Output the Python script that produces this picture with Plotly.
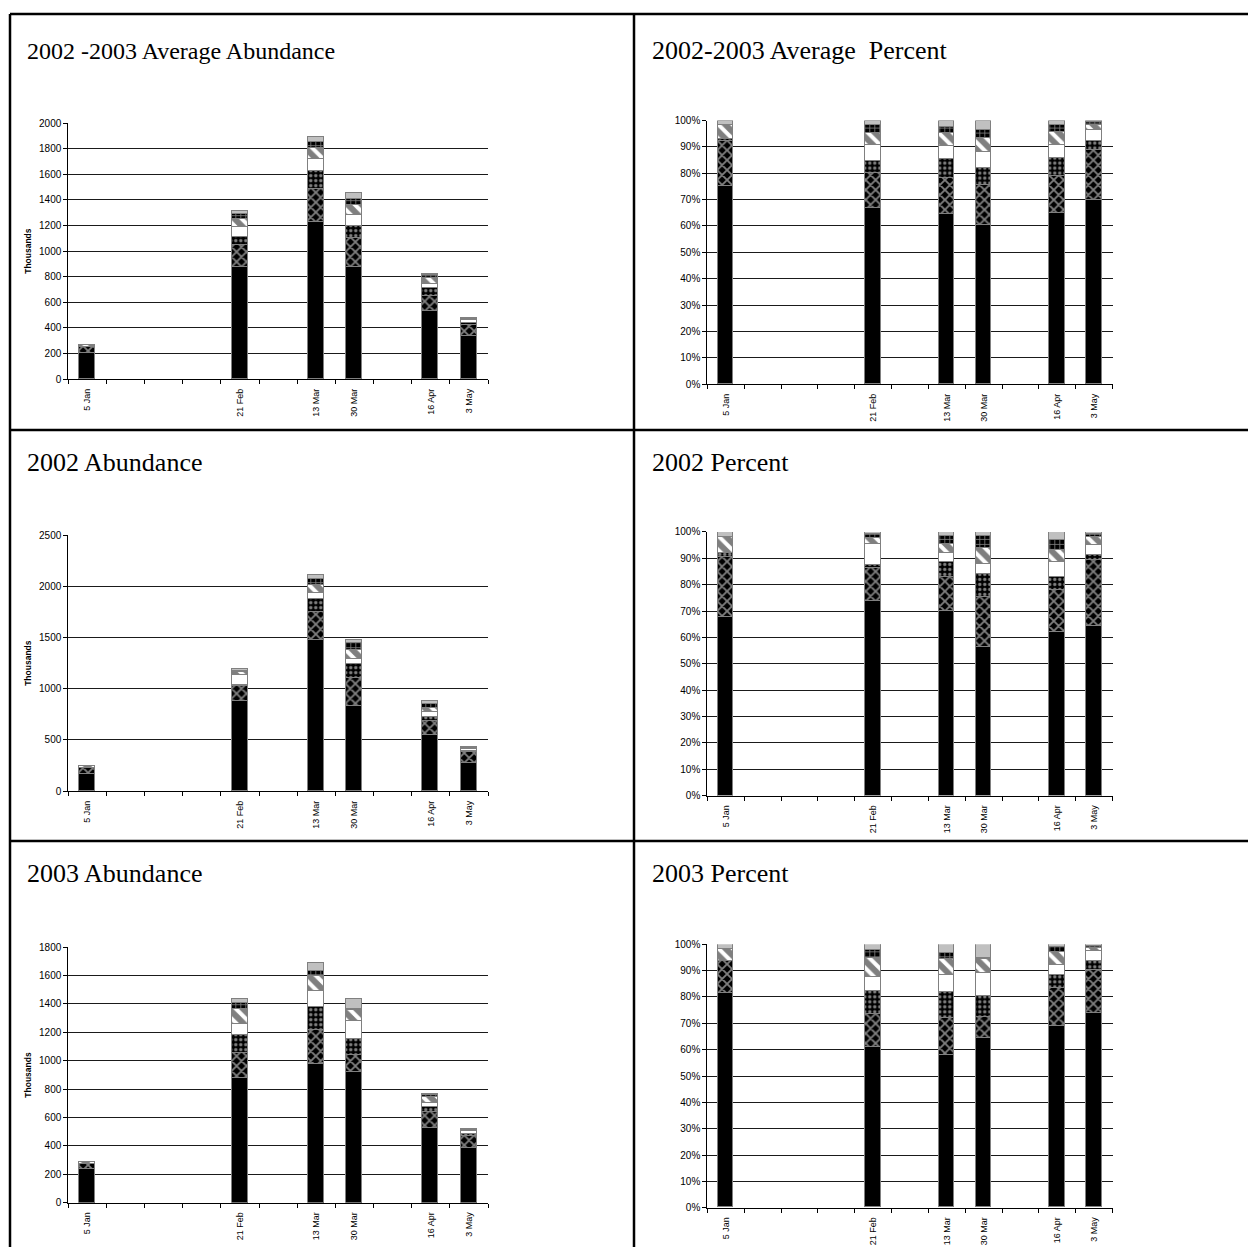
import plotly.graph_objects as go

W, H = 1248, 1253

# Sampling dates placed on an 11-slot category scale (empty slots in between)
date_labels = ["5 Jan", "21 Feb", "13 Mar", "30 Mar", "16 Apr", "3 May"]
date_slots = [0, 4, 6, 7, 9, 10]
n_slots = 11

series_names = ["Black", "Wave", "Dots", "White", "Diagonal", "Grid", "Gray"]

# 2002-2003 average abundance (thousands)
avg_black = [201, 877, 1226, 878, 534, 332]
avg_wave = [46, 172, 255, 225, 115, 90]
avg_dots = [2, 60, 143, 92, 58, 16]
avg_white = [0, 82, 92, 88, 38, 19]
avg_diag = [14, 60, 90, 76, 42, 10]
avg_grid = [0, 38, 48, 45, 22, 5]
avg_gray = [4, 21, 40, 51, 12, 2]

# 2002 abundance (thousands)
y02_black = [167, 877, 1478, 832, 542, 277]
y02_wave = [56, 150, 267, 275, 139, 108]
y02_dots = [3, 10, 126, 129, 46, 8]
y02_white = [0, 96, 65, 55, 47, 15]
y02_diag = [15, 25, 74, 90, 40, 14]
y02_grid = [0, 18, 65, 65, 36, 5]
y02_gray = [5, 11, 32, 25, 25, 3]

# 2003 abundance (thousands)
y03_black = [234, 876, 977, 923, 526, 382]
y03_wave = [35, 180, 235, 117, 110, 85]
y03_dots = [0, 123, 167, 115, 38, 18]
y03_white = [0, 77, 109, 125, 29, 20]
y03_diag = [14, 104, 105, 76, 37, 6]
y03_grid = [0, 47, 35, 6, 15, 4]
y03_gray = [5, 30, 58, 75, 8, 3]

avg_series = [avg_black, avg_wave, avg_dots, avg_white, avg_diag, avg_grid, avg_gray]
y02_series = [y02_black, y02_wave, y02_dots, y02_white, y02_diag, y02_grid, y02_gray]
y03_series = [y03_black, y03_wave, y03_dots, y03_white, y03_diag, y03_grid, y03_gray]

# Fill style for each stacked component (bottom to top)
styles = [
    dict(color="#000000"),
    dict(color="#000000", pattern=dict(shape="x", fgcolor="#ffffff", bgcolor="#000000", size=7, solidity=0.45)),
    dict(color="#000000", pattern=dict(shape=".", fgcolor="#ffffff", bgcolor="#000000", size=5, solidity=0.35)),
    dict(color="#ffffff"),
    dict(color="#ffffff", pattern=dict(shape="\\", fgcolor="#000000", bgcolor="#ffffff", size=10, solidity=0.6)),
    dict(color="#000000", pattern=dict(shape="+", fgcolor="#ffffff", bgcolor="#000000", size=5, solidity=0.3)),
    dict(color="#c0c0c0"),
]


def px_x(px):
    return px / W


def px_y(py):
    return 1 - py / H


panels = [
    dict(title="2002 -2003 Average Abundance", series=avg_series, pct=False, ymax=2000, dtick=200,
         xpx=(68.3, 488), ypx=(376.7, 118.3), tpos=(25, 45), tsize=24),
    dict(title="2002-2003 Average\u00a0\u00a0Percent", series=avg_series, pct=True, ymax=100, dtick=10,
         xpx=(707.3, 1112.7), ypx=(381.7, 115.7), tpos=(650, 45), tsize=26),
    dict(title="2002 Abundance", series=y02_series, pct=False, ymax=2500, dtick=500,
         xpx=(68.3, 488), ypx=(792.7, 534.3), tpos=(25, 461), tsize=26),
    dict(title="2002 Percent", series=y02_series, pct=True, ymax=100, dtick=10,
         xpx=(707.3, 1112.7), ypx=(797.3, 531.0), tpos=(650, 461), tsize=26),
    dict(title="2003 Abundance", series=y03_series, pct=False, ymax=1800, dtick=200,
         xpx=(68.3, 488), ypx=(1208.3, 950.3), tpos=(25, 876), tsize=26),
    dict(title="2003 Percent", series=y03_series, pct=True, ymax=100, dtick=10,
         xpx=(707.3, 1112.7), ypx=(1213.3, 947.4), tpos=(650, 876), tsize=26),
]

fig = go.Figure()
layout = dict(
    width=W, height=H, margin=dict(l=0, r=0, t=0, b=0),
    paper_bgcolor="#ffffff", plot_bgcolor="#ffffff",
    barmode="stack", bargap=0, showlegend=False,
    font=dict(family="Liberation Sans, Arial, sans-serif", color="#000000"),
)
annotations = []
x_centers = [s + 0.5 for s in date_slots]

for i, p in enumerate(panels):
    n = i + 1
    xa = "x" if n == 1 else f"x{n}"
    ya = "y" if n == 1 else f"y{n}"
    totals = [sum(col) for col in zip(*p["series"])]
    for name, vals, st in zip(series_names, p["series"], styles):
        yvals = [v / t * 100 for v, t in zip(vals, totals)] if p["pct"] else vals
        marker = dict(color=st["color"], line=dict(color="#808080", width=1))
        if "pattern" in st:
            marker["pattern"] = st["pattern"]
        fig.add_trace(go.Bar(
            x=x_centers, y=yvals, name=name, width=0.42, marker=marker,
            xaxis=xa, yaxis=ya, hoverinfo="skip",
        ))

    layout["xaxis" if n == 1 else f"xaxis{n}"] = dict(
        domain=[px_x(p["xpx"][0]), px_x(p["xpx"][1])],
        anchor=ya, range=[0, n_slots], fixedrange=True,
        tickmode="array", tickvals=x_centers, ticktext=date_labels,
        tickangle=-90, ticks="outside", ticklen=5, tickcolor="rgba(0,0,0,0)",
        tickfont=dict(size=9, family="Liberation Sans, Arial"),
        showgrid=False, zeroline=False,
        showline=True, linecolor="#000000", linewidth=1,
        minor=dict(tickmode="linear", tick0=0, dtick=1, ticks="outside",
                   ticklen=4, tickcolor="#000000", tickwidth=1, showgrid=False),
    )
    yaxis = dict(
        domain=[px_y(p["ypx"][0]), px_y(p["ypx"][1])],
        anchor=xa, range=[0, p["ymax"]], fixedrange=True,
        tickmode="linear", tick0=0, dtick=p["dtick"],
        ticks="outside", ticklen=4, tickcolor="#000000",
        tickfont=dict(size=10, family="Liberation Sans, Arial"),
        showgrid=True, gridcolor="#1a1a1a", gridwidth=1, zeroline=False,
        showline=True, linecolor="#000000", linewidth=1,
    )
    if p["pct"]:
        yaxis["ticksuffix"] = "%"
    else:
        yaxis["title"] = dict(text="<b>Thousands</b>", font=dict(size=8.5, family="Liberation Sans, Arial"), standoff=6)
    layout["yaxis" if n == 1 else f"yaxis{n}"] = yaxis

    annotations.append(dict(
        text=p["title"], xref="paper", yref="paper",
        x=px_x(p["tpos"][0]), y=px_y(p["tpos"][1]), xanchor="left", yanchor="middle",
        showarrow=False,
        font=dict(family="Liberation Serif, Times New Roman, serif", size=p["tsize"], color="#000000"),
    ))

# Table frame around the six panels
frame_v = [10, 634]
frame_h = [8, 428, 843]
shapes = []
for xv in frame_v:
    shapes.append(dict(type="line", xref="paper", yref="paper",
                       x0=px_x(xv), x1=px_x(xv), y0=px_y(frame_h[0]), y1=0,
                       line=dict(color="#000000", width=2.5)))
for yv in frame_h:
    shapes.append(dict(type="line", xref="paper", yref="paper",
                       x0=px_x(frame_v[0]), x1=1, y0=px_y(yv), y1=px_y(yv),
                       line=dict(color="#000000", width=2.5)))

layout["annotations"] = annotations
layout["shapes"] = shapes
fig.update_layout(**layout)
fig.write_html("out.html")
